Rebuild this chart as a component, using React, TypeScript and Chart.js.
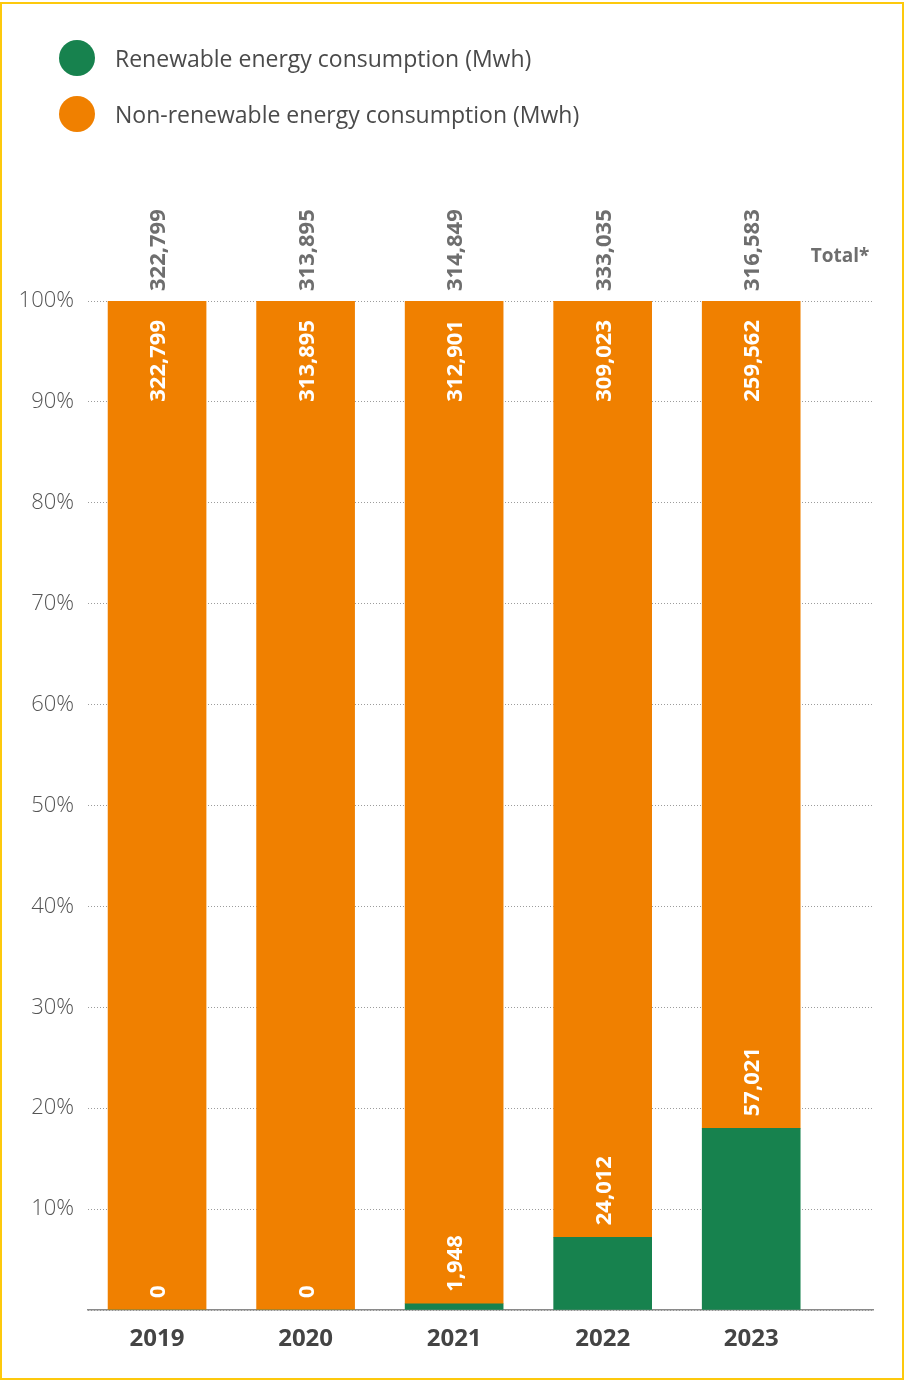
import React, { useEffect, useRef } from "react";
import { Chart, registerables } from "chart.js";

Chart.register(...registerables);

const years = ["2019", "2020", "2021", "2022", "2023"];
const renewable = [0, 0, 1948, 24012, 57021];
const nonRenewable = [322799, 313895, 312901, 309023, 259562];
const totals = years.map((_, i) => renewable[i] + nonRenewable[i]);
const seriesNames = ["Renewable energy consumption (Mwh)", "Non-renewable energy consumption (Mwh)"];
const seriesColors = ["#17824E", "#F08000"];
const totalLabel = "Total*";

const FONT = '"Open Sans", "Noto Sans", sans-serif';
const fmt = (v: number) => v.toLocaleString("en-US");

const labelPlugin = {
  id: "barLabels",
  afterDatasetsDraw(chart: any) {
    const ctx = chart.ctx;
    const metaR = chart.getDatasetMeta(0);
    const metaN = chart.getDatasetMeta(1);
    const drawRot = (text: string, x: number, y: number, align: CanvasTextAlign, color: string) => {
      ctx.save();
      ctx.translate(x, y);
      ctx.rotate(-Math.PI / 2);
      ctx.textAlign = align;
      ctx.textBaseline = "middle";
      ctx.fillStyle = color;
      ctx.fillText(text, 0, 0);
      ctx.restore();
    };
    ctx.save();
    ctx.font = `bold 22px ${FONT}`;
    metaN.data.forEach((bar: any, i: number) => {
      const x = bar.x + 2;
      drawRot(fmt(nonRenewable[i]), x, bar.y + 19, "right", "#ffffff");
      const rBar = metaR.data[i];
      drawRot(fmt(renewable[i]), x, rBar.y - 12, "left", "#ffffff");
      drawRot(fmt(totals[i]), x, bar.y - 10, "left", "#6e6e6e");
    });
    const area = chart.chartArea;
    ctx.font = `bold 19px ${FONT}`;
    ctx.fillStyle = "#6e6e6e";
    ctx.textAlign = "center";
    ctx.textBaseline = "middle";
    ctx.fillText(totalLabel, area.right - 33, area.top - 44);
    ctx.restore();
  },
};

export default function App() {
  const canvasRef = useRef<HTMLCanvasElement>(null);

  useEffect(() => {
    if (!canvasRef.current) return;
    const pct = (arr: number[]) => arr.map((v, i) => ({ x: i, y: (v / totals[i]) * 100 }));
    const chart = new Chart(canvasRef.current, {
      type: "bar",
      data: {
        datasets: [
          {
            label: seriesNames[0],
            data: pct(renewable),
            backgroundColor: seriesColors[0],
            barThickness: 98,
          },
          {
            label: seriesNames[1],
            data: pct(nonRenewable),
            backgroundColor: seriesColors[1],
            barThickness: 98,
          },
        ],
      },
      options: {
        animation: false,
        responsive: false,
        devicePixelRatio: 1,
        layout: { padding: { top: 301, right: 32, left: 0, bottom: 0 } },
        plugins: {
          legend: { display: false },
          tooltip: { enabled: false },
        },
        scales: {
          x: {
            type: "linear",
            stacked: true,
            offset: false,
            bounds: "data",
            min: -0.465,
            max: 4.82,
            afterBuildTicks: (scale: any) => {
              scale.ticks = years.map((_, i) => ({ value: i }));
            },
            afterFit: (scale: any) => {
              scale.height = 71;
            },
            grid: { display: false, drawTicks: false, offset: false },
            border: { display: true, color: "#8a8a8a", width: 1.5 },
            ticks: {
              padding: 15,
              color: "#444444",
              font: { family: FONT, size: 24, weight: "bold" },
              callback: (v: any) => years[v] ?? "",
            },
          },
          y: {
            stacked: true,
            min: 0,
            max: 100,
            afterFit: (scale: any) => {
              scale.width = 88;
            },
            ticks: {
              stepSize: 10,
              padding: 14,
              color: "#555555",
              font: { family: FONT, size: 22, weight: 300 },
              callback: (v: any) => (v === 0 ? "" : `${v}%`),
            },
            grid: { color: "#9c9c9c", lineWidth: 1, drawTicks: false },
            border: { display: false, dash: [1, 2] },
          },
        },
      },
      plugins: [labelPlugin],
    });
    return () => chart.destroy();
  }, []);

  return (
    <div style={{ position: "absolute", left: 0, top: 0, width: 905, height: 1381, background: "#ffffff", overflow: "hidden" }}>
      <canvas ref={canvasRef} width={905} height={1381} style={{ position: "absolute", left: 0, top: 0, width: 905, height: 1381 }} />
      {seriesNames.map((name, i) => (
        <div key={name} style={{ position: "absolute", left: 59, top: 40 + i * 56, height: 36, display: "flex", alignItems: "center" }}>
          <span style={{ display: "inline-block", width: 36, height: 36, borderRadius: "50%", background: seriesColors[i] }} />
          <span style={{ marginLeft: 20, fontFamily: FONT, fontSize: 23, color: "#4a4a4a", whiteSpace: "nowrap" }}>{name}</span>
        </div>
      ))}
      <div style={{ position: "absolute", left: 0, top: 2, width: 904, height: 1378, boxSizing: "border-box", border: "2px solid #FDC90D", pointerEvents: "none" }} />
    </div>
  );
}
